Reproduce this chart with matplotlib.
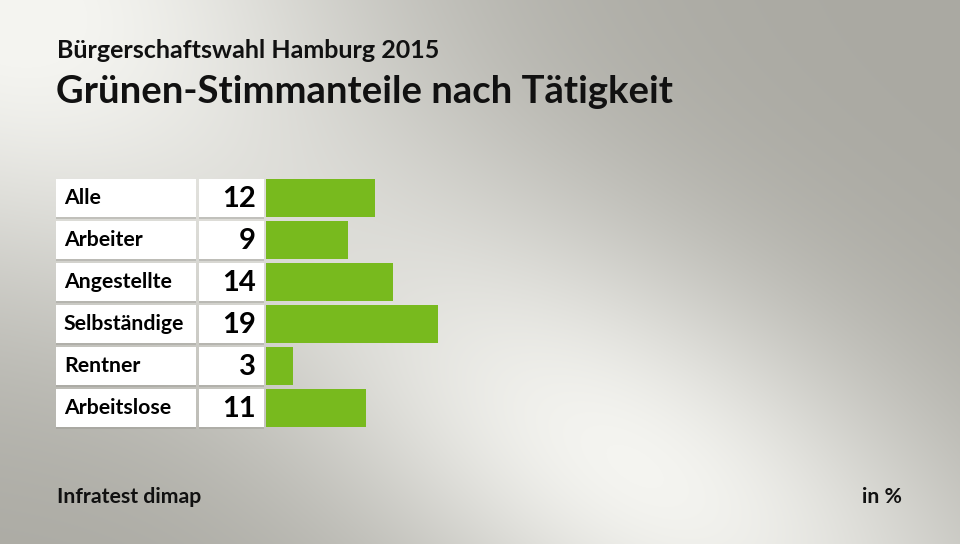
import numpy as np
import matplotlib.pyplot as plt

# data
categories = ['Alle', 'Arbeiter', 'Angestellte', 'Selbständige', 'Rentner', 'Arbeitslose']
values = [12, 9, 14, 19, 3, 11]

subtitle = 'Bürgerschaftswahl Hamburg 2015'
title = 'Grünen-Stimmanteile nach Tätigkeit'
source = 'Infratest dimap'
unit = 'in %'

W, H = 960, 544
FONT = 'Lato'
GREEN = '#78ba1e'

fig = plt.figure(figsize=(W / 100, H / 100), dpi=100)

# background gradient
bg = fig.add_axes([0, 0, 1, 1])
yy, xx = np.mgrid[0:H, 0:W]
base = np.array([170, 169, 162]) / 255.0
light = np.array([244, 244, 240]) / 255.0
a = np.exp(-((xx / 380.0) ** 2 + (yy / 300.0) ** 2))
u = (xx - 640) * 0.85 + (yy - 470) * 0.53
v = -(xx - 640) * 0.53 + (yy - 470) * 0.85
b = np.exp(-((u / 430.0) ** 2 + (v / 210.0) ** 2))
w = np.clip(a + b, 0, 1)[..., None]
img = base + (light - base) * w
bg.imshow(img, extent=[0, W, H, 0], aspect='auto')
bg.set_xlim(0, W)
bg.set_ylim(H, 0)
bg.axis('off')

# bar axes: pixel layout
px_per_unit = 9.06
ax_left, ax_right = 56, 956
zero_px = 266
row0, pitch = 198, 42
top_px, bot_px = 170, 440
ax = fig.add_axes([ax_left / W, 1 - bot_px / H, (ax_right - ax_left) / W, (bot_px - top_px) / H])
ax.set_xlim((ax_left - zero_px) / px_per_unit, (ax_right - zero_px) / px_per_unit)
ax.set_ylim((bot_px - row0) / pitch, (top_px - row0) / pitch)
ax.axis('off')
ax.patch.set_alpha(0)

y = np.arange(len(categories))
bh = 38 / pitch
lab_l = (56 - zero_px) / px_per_unit
lab_w = 140 / px_per_unit
val_l = (199 - zero_px) / px_per_unit
val_w = 65 / px_per_unit

# soft shadows under the white boxes
ax.barh(y + 1.5 / pitch, lab_w, left=lab_l, height=bh, color='#8f8e88', alpha=0.35, lw=0)
ax.barh(y + 1.5 / pitch, val_w, left=val_l, height=bh, color='#8f8e88', alpha=0.35, lw=0)
ax.barh(y, lab_w, left=lab_l, height=bh, color='white', lw=0)
ax.barh(y, val_w, left=val_l, height=bh, color='white', lw=0)
ax.barh(y, values, left=0, height=bh, color=GREEN, lw=0)

for yi, cat, val in zip(y, categories, values):
    ax.text(lab_l + 8 / px_per_unit, yi, cat, ha='left', va='center',
            fontsize=15.3, fontweight='bold', family=FONT, color='black')
    ax.text(-10 / px_per_unit, yi + 1 / pitch, str(val), ha='right', va='center',
            fontsize=21, fontweight='bold', family=FONT, color='black')

fig.text(57 / W, 1 - 50 / H, subtitle, ha='left', va='center',
         fontsize=18, fontweight='bold', family=FONT, color='#111111')
fig.text(56 / W, 1 - 92 / H, title, ha='left', va='center',
         fontsize=27.5, fontweight='bold', family=FONT, color='#111111')
fig.text(57 / W, 1 - 497 / H, source, ha='left', va='center',
         fontsize=15.3, fontweight='bold', family=FONT, color='#111111')
fig.text(902 / W, 1 - 497 / H, unit, ha='right', va='center',
         fontsize=15.3, fontweight='bold', family=FONT, color='#111111')

fig.savefig('out.png', dpi=100)
